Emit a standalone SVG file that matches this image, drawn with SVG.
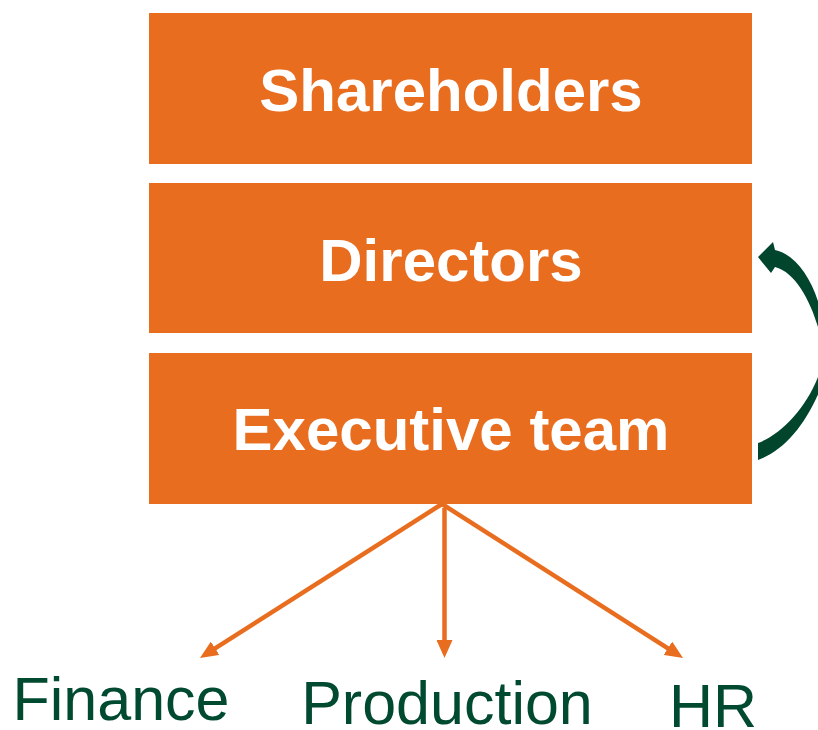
<svg xmlns="http://www.w3.org/2000/svg" width="818" height="730" viewBox="0 0 818 730">
<style>
.box{fill:#E86D1F}
.bl{font-family:"Liberation Sans",Arial,sans-serif;font-weight:bold;font-size:60px;fill:#FFFFFF;text-anchor:middle}
.gl{font-family:"Liberation Sans",Arial,sans-serif;font-size:61px;fill:#004A2F;text-anchor:middle}
.conn{stroke:#E86D1F;stroke-width:4.5;fill:none}
</style>
<defs>
<marker id="ah" markerUnits="userSpaceOnUse" markerWidth="18" markerHeight="16" refX="8" refY="8" orient="auto">
<path d="M0,0 L18,8 L0,16 z" fill="#E86D1F"/>
</marker>
</defs>
<rect width="818" height="730" fill="#FFFFFF"/>
<g id="shareholders">
<rect class="box" x="149" y="13" width="603" height="151"/>
<text class="bl" x="451" y="111">Shareholders</text>
</g>
<g id="directors">
<rect class="box" x="149" y="183" width="603" height="150"/>
<text class="bl" x="451" y="281">Directors</text>
</g>
<g id="executive">
<rect class="box" x="149" y="353" width="603" height="151"/>
<text class="bl" x="451" y="450">Executive team</text>
</g>
<g id="finance">
<text class="gl" x="121" y="720">Finance</text>
</g>
<g id="production">
<text class="gl" x="447" y="724">Production</text>
</g>
<g id="hr">
<text class="gl" x="713" y="727">HR</text>
</g>
<g id="connectors">
<line class="conn" x1="442" y1="504" x2="208.4" y2="652.6" marker-end="url(#ah)"/>
<line class="conn" x1="444.5" y1="508" x2="444.5" y2="648" marker-end="url(#ah)"/>
<line class="conn" x1="442" y1="504" x2="674.6" y2="652.6" marker-end="url(#ah)"/>
<path d="M775,250 C795,254 812,278 820,308 C828,340 828,370 820,390 C805,425 785,450 758,460 L758,443 C780,435 805,410 818,377 C824,360 825,345 818,327 C810,300 795,272 775,267 L771,273 L758,257 L773,242 Z" fill="#00452C"/>
</g>
</svg>
